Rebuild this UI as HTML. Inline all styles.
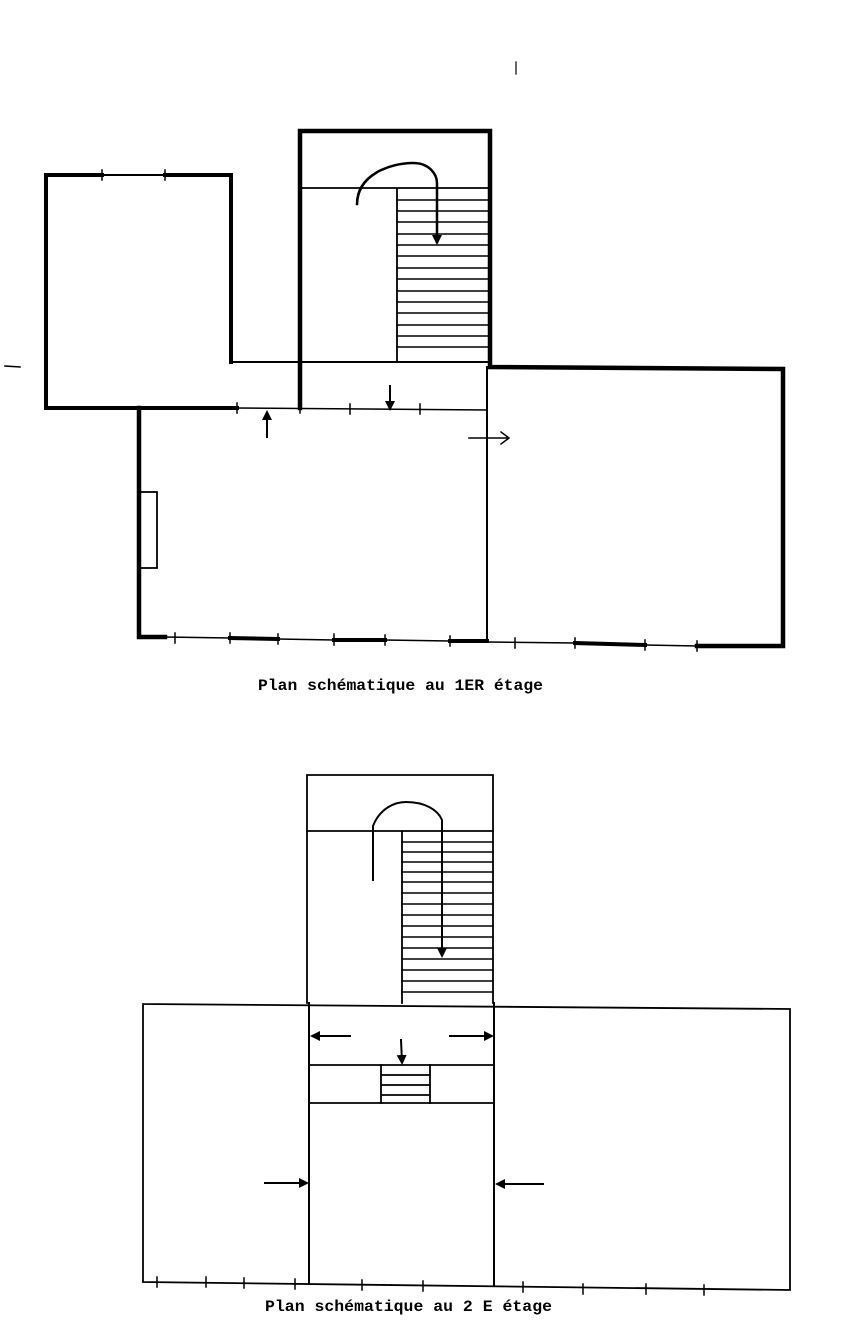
<!DOCTYPE html>
<html><head><meta charset="utf-8"><style>
html,body{margin:0;padding:0;background:#fff;}
svg{display:block}
text{font-family:"Liberation Mono",monospace;font-weight:bold;font-size:16px;fill:#000}
</style></head><body>
<svg width="851" height="1341" viewBox="0 0 851 1341" xmlns="http://www.w3.org/2000/svg">
<defs>
<marker id="a" markerWidth="10" markerHeight="10" refX="7" refY="5" orient="auto" markerUnits="userSpaceOnUse"><path d="M0,0 L10,5 L0,10 Z" fill="#000"/></marker>
</defs>
<g stroke="#000" fill="none" stroke-linecap="square">
<path d="M46,175 L102,175 M165,175 L231,175 L231,362 M46,175 L46,408 L237,408" stroke-width="4"/>
<path d="M102,175 L165,175" stroke-width="2"/>
<path d="M231,362 L490,362" stroke-width="2"/>
<path d="M237,408 L487,410" stroke-width="1.5"/>
<path d="M300,408 L300,131 L490,131 L490,367 L783,369 L783,646 L697,646" stroke-width="4.5"/>
<path d="M300,188 L490,188 M397,188 L397,362" stroke-width="1.8"/>
<g stroke-width="1.5">
<path d="M397,200H490M397,211H490M397,222H490M397,234H490M397,245H490M397,256H490M397,268H490M397,279H490M397,291H490M397,302H490M397,313H490M397,325H490M397,336H490M397,347H490"/>
</g>
<path d="M357,204 C357,175 390,163 413,163 C430,163 437,175 437,183 L437,242" stroke-width="2.5" marker-end="url(#a)"/>
<path d="M487,367 L487,640" stroke-width="2"/>
<path d="M139,408 L139,637 L165,637" stroke-width="4.5"/>
<path d="M165,637 L230,638 M278,639 L334,640 M385,640 L450,641 M487,642 L575,643 M645,645 L697,646" stroke-width="1.5"/>
<path d="M230,638 L278,639 M334,640 L385,640 M450,641 L487,641 M575,643 L645,645" stroke-width="4"/>
<path d="M175,633V643M230,633V643M278,634V644M334,634V645M385,635V645M450,636V646M515,638V648M575,638V648M645,640V650M697,641V651M102,170V180M165,170V180M237,403V413M300,403V413M350,404V414M420,404V414M487,445V455" stroke-width="1.5"/>
<rect x="140" y="492" width="17" height="76" stroke-width="1.8"/>
<path d="M267,437 L267,413" stroke-width="2" marker-end="url(#a)"/>
<path d="M390,386 L390,408" stroke-width="2" marker-end="url(#a)"/>
<path d="M469,438 L508,438 M501,432 L509,438 L501,444" stroke-width="1.5"/>
<path d="M5,366 L20,367" stroke-width="1.5"/>
<path d="M516,62 L516,74" stroke-width="1.2"/>

<path d="M307,775 L493,775 L493,1003 M307,775 L307,1003" stroke-width="1.8"/>
<path d="M307,831 L493,831 M402,831 L402,1003" stroke-width="1.8"/>
<g stroke-width="1.5">
<path d="M402,842H493M402,852H493M402,862H493M402,872H493M402,882H493M402,893H493M402,904H493M402,915H493M402,926H493M402,937H493M402,948H493M402,959H493M402,970H493M402,981H493M402,992H493"/>
</g>
<path d="M373,880 L373,826 C380,808 395,802 406,802 C425,802 438,810 442,820 L442,955" stroke-width="2" marker-end="url(#a)"/>
<path d="M143,1004 L790,1009 L790,1290 M143,1004 L143,1282 L790,1290" stroke-width="1.8"/>
<path d="M309,1003 L309,1283 M494,1003 L494,1285" stroke-width="2"/>
<path d="M309,1065 L494,1065 M309,1103 L494,1103" stroke-width="1.8"/>
<path d="M381,1065 L381,1103 M430,1065 L430,1103 M381,1075H430M381,1085H430M381,1095H430" stroke-width="1.8"/>
<path d="M350,1036 L313,1036" stroke-width="2" marker-end="url(#a)"/>
<path d="M450,1036 L491,1036" stroke-width="2" marker-end="url(#a)"/>
<path d="M401,1040 L402,1062" stroke-width="2" marker-end="url(#a)"/>
<path d="M265,1183 L306,1183" stroke-width="2" marker-end="url(#a)"/>
<path d="M543,1184 L498,1184" stroke-width="2" marker-end="url(#a)"/>
<path d="M157,1277V1287M206,1277V1287M244,1278V1288M295,1279V1289M362,1280V1290M423,1281V1291M523,1282V1292M583,1284V1294M646,1284V1294M704,1285V1295" stroke-width="1.5"/>
</g>
<text x="258" y="690" textLength="285" lengthAdjust="spacingAndGlyphs">Plan schématique au 1ER étage</text>
<text x="265" y="1311" textLength="287" lengthAdjust="spacingAndGlyphs">Plan schématique au 2 E étage</text>
</svg>
</body></html>
